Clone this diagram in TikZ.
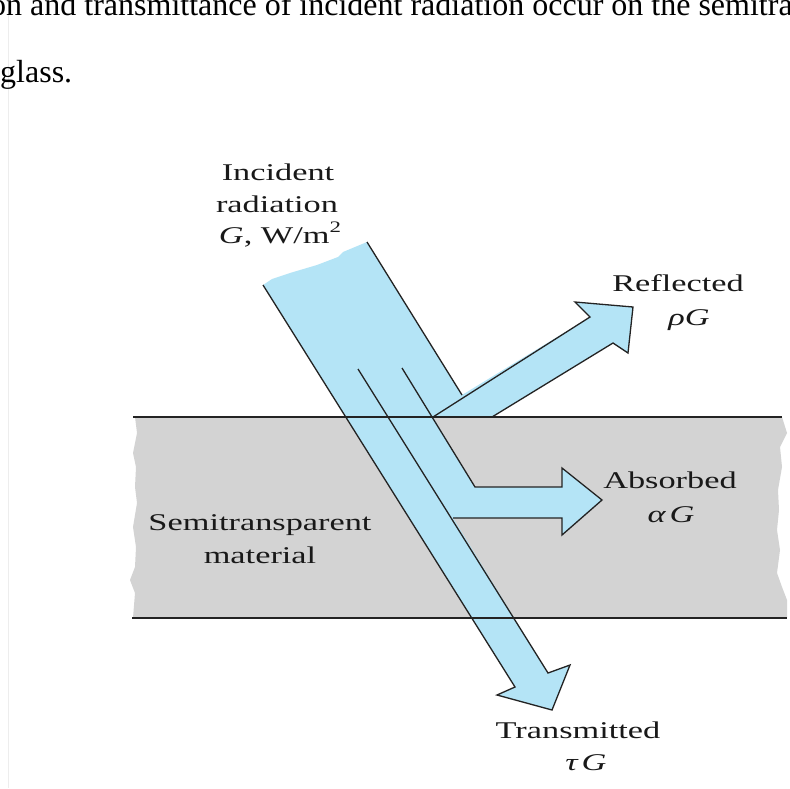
\documentclass[tikz,border=0pt]{standalone}
\usepackage{fontspec}
\setmainfont{Liberation Serif}
\newfontfamily\labfont[FakeStretch=1.43]{Liberation Serif}
\definecolor{beam}{RGB}{180,228,246}
\definecolor{slab}{RGB}{211,211,211}
\definecolor{ink}{RGB}{35,35,35}
\tikzset{
  lab/.style={anchor=base, inner sep=0pt, text=black!90, font=\labfont\fontsize{24}{30}\selectfont},
  edgeline/.style={draw=ink, line width=1.3pt, line join=miter},
  doc/.style={anchor=base west, inner sep=0pt, text=black, font=\fontsize{32}{36}\selectfont}
}
\begin{document}
\begin{tikzpicture}[x=1pt,y=-1pt]
\useasboundingbox (0,0) rectangle (790,788);
\fill[white] (0,0) rectangle (790,788);
% faint page margin line
\draw[black!7, line width=1pt] (8,0) -- (8,788);
% document text (cut off at the top edge)
\begin{scope}
  \clip (0,0) rectangle (790,788);
  \node[doc] (doctop) at (-10,15) {on and transmittance of incident radiation occur on the semitransparent};
  \node[doc] (docglass) at (0,82) {glass.};
\end{scope}

% key points
\coordinate (inL) at (263,285);
\coordinate (inR) at (367,242);
\coordinate (inRe) at (462,395);
\coordinate (hit) at (433,417);
\coordinate (rU) at (590,317);
\coordinate (rB1) at (575,302);
\coordinate (rT) at (633,307);
\coordinate (rB2) at (628,353);
\coordinate (rL) at (613,343);
\coordinate (rS) at (492,417);
\coordinate (aS) at (402,368);
\coordinate (aK) at (475,487);
\coordinate (aU) at (562,487);
\coordinate (aB1) at (562,468);
\coordinate (aT) at (602,500);
\coordinate (aB2) at (562,535);
\coordinate (aL) at (562,518);
\coordinate (aE) at (453,518);
\coordinate (tS) at (358,369);
\coordinate (tR) at (548,673);
\coordinate (tB1) at (570,665);
\coordinate (tT) at (552,710);
\coordinate (tB2) at (497,695);
\coordinate (tL) at (515,687);

% semitransparent slab
\fill[slab] (135,417) -- (782,417) -- (787,433) -- (780,447) -- (782,467) -- (778,490)
  -- (779,510) -- (777,530) -- (780,550) -- (777,573) -- (782,587) -- (787,600) -- (787,618)
  -- (133,618) -- (135,593) -- (130,580) -- (135,567) -- (136,547) -- (133,527)
  -- (137,503) -- (135,487) -- (136,467) -- (133,453) -- (137,433) -- cycle;

% beam fill
\fill[beam] (inL) -- (272,279) -- (290,273) -- (317,265) -- (338,257) -- (343,252) -- (355,247) -- (inR)
  -- (inRe) -- (rU) -- (rB1) -- (rT) -- (rB2) -- (rL) -- (rS) -- (hit)
  -- (aK) -- (aU) -- (aB1) -- (aT) -- (aB2) -- (aL) -- (aE)
  -- (tR) -- (tB1) -- (tT) -- (tB2) -- (tL) -- cycle;

% slab boundaries
\draw[ink, line width=1.2pt] (133,417) -- (782,417);
\draw[ink, line width=1.2pt] (132,618) -- (787,618);

% beam outlines
\draw[edgeline] (inL) -- (tL) -- (tB2) -- (tT) -- (tB1) -- (tR) -- (tS);
\draw[edgeline] (inR) -- (inRe);
\draw[edgeline] (hit) -- (rU) -- (rB1) -- (rT) -- (rB2) -- (rL) -- (rS);
\draw[edgeline] (aS) -- (aK) -- (aU) -- (aB1) -- (aT) -- (aB2) -- (aL) -- (aE);

% labels
\node[lab] (inc1) at (278,180) {Incident};
\node[lab] (inc2) at (277,212) {radiation};
\node[lab] (inc3) at (280,243) {{\itshape G}, W/m\raisebox{0.42em}{\fontsize{16}{16}\selectfont 2}};
\node[lab] (ref1) at (678,291) {Reflected};
\node[lab] (ref2) at (689,325) {\itshape ρG};
\node[lab] (abs1) at (670,488) {Absorbed};
\node[lab] (abs2) at (671,522) {\itshape α\,G};
\node[lab] (semi1) at (260,530) {Semitransparent};
\node[lab] (semi2) at (260,563) {material};
\node[lab] (tr1) at (578,738) {Transmitted};
\node[lab] (tr2) at (586,770) {\itshape τ\,G};
\end{tikzpicture}
\end{document}
